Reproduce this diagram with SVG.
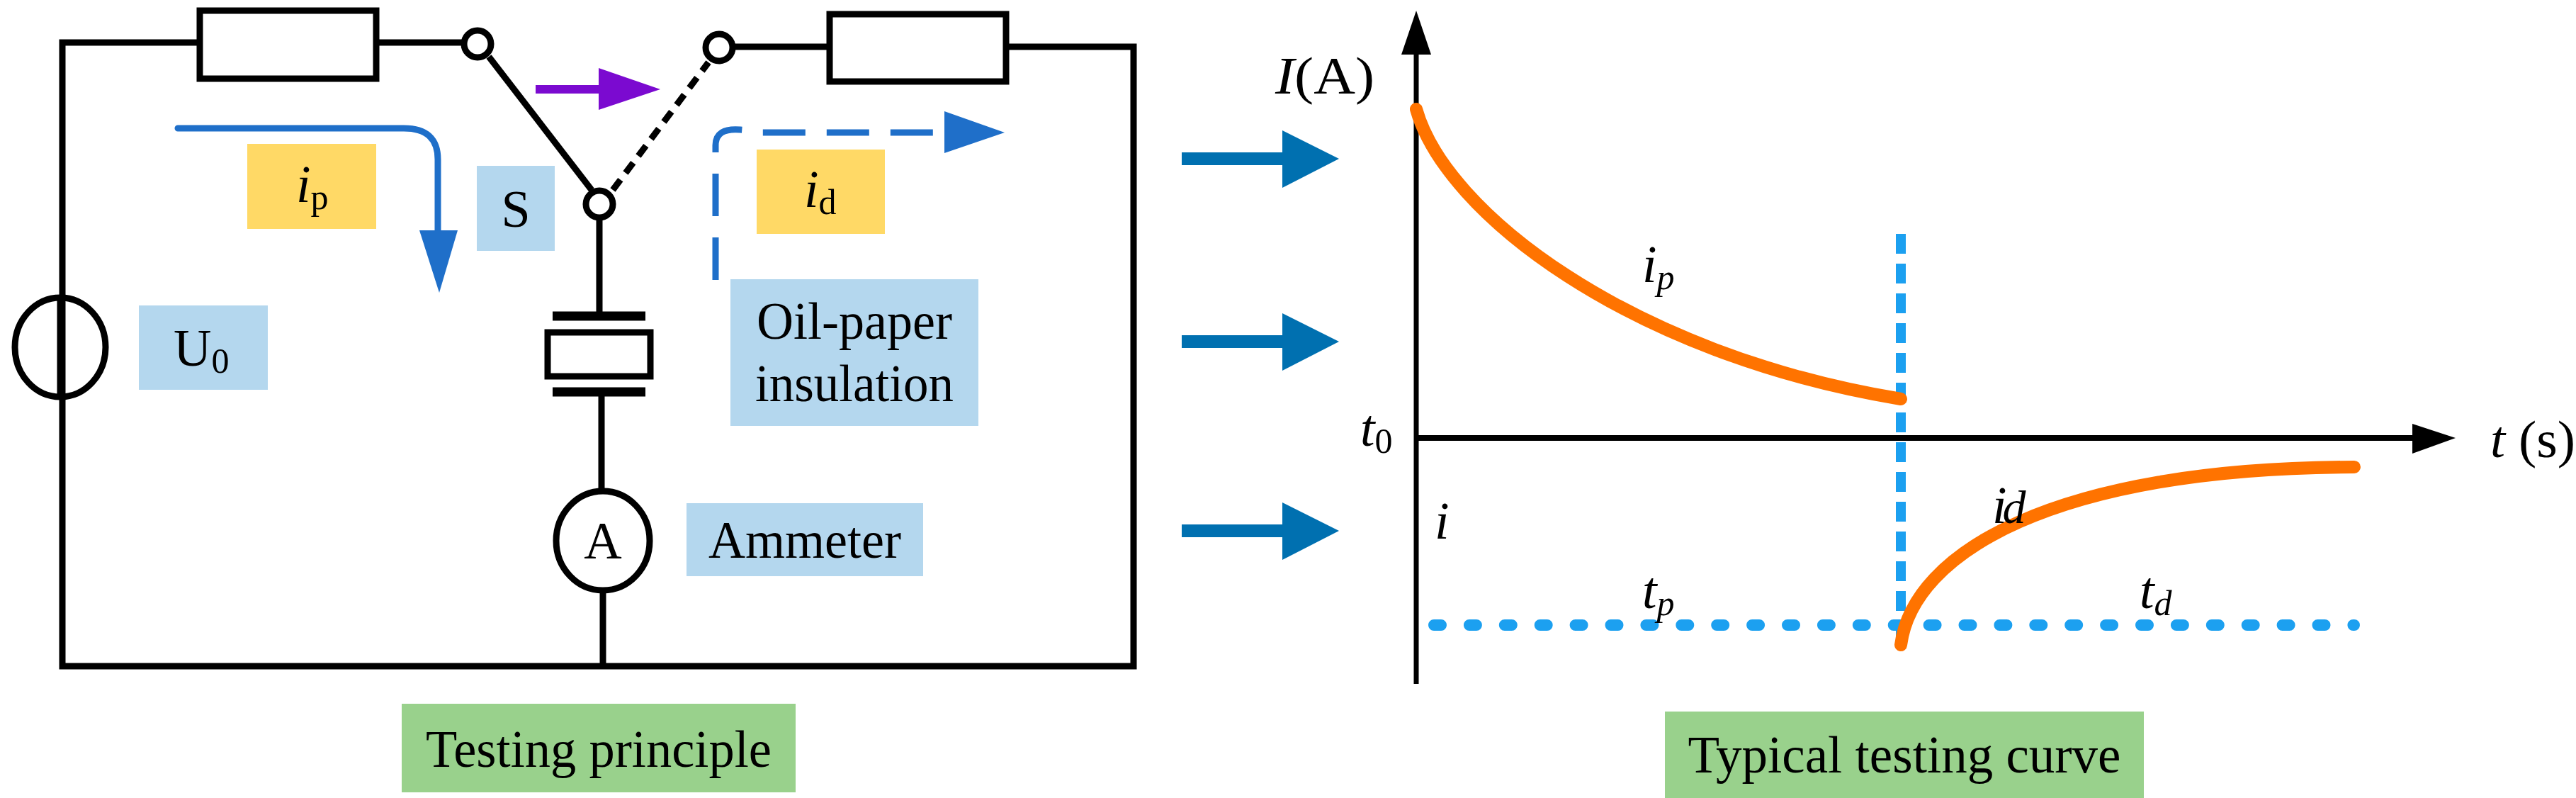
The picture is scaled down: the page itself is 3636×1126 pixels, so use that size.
<svg xmlns="http://www.w3.org/2000/svg" width="3636" height="1126" viewBox="0 0 3636 1126">
<style>
.w{fill:none;stroke:#000;stroke-width:9}
.t{font-family:"Liberation Serif",serif;font-size:74px;fill:#000}
.it{font-style:italic}
.or{fill:none;stroke:#FF7300;stroke-width:18;stroke-linecap:round}
.bl{fill:#B4D7EE}.yl{fill:#FFD966}.gr{fill:#99D18C}
</style>
<rect width="3636" height="1126" fill="#fff"/>
<g id="circuit">
<path class="w" d="M282,60H88V940H1600V66H1420M531,60H655M1036,66H1171"/>
<rect id="R1" class="w" x="282" y="15" width="249" height="96" fill="#fff"/>
<rect id="R2" class="w" x="1171" y="20" width="249" height="95" fill="#fff"/>
<line class="w" x1="690" y1="80" x2="835" y2="268"/>
<line x1="865" y1="268" x2="1000" y2="88" stroke="#000" stroke-width="9" stroke-dasharray="18,12"/>
<circle class="w" cx="674" cy="62" r="19" fill="#fff"/>
<circle class="w" cx="1015" cy="67" r="19" fill="#fff"/>
<circle class="w" cx="846" cy="288" r="19" fill="#fff"/>
<path class="w" d="M846,307V446M849,553V692M851,834V940"/>
<ellipse id="U0src" class="w" cx="85" cy="490" rx="64" ry="70" fill="#fff"/>
<line class="w" x1="85" y1="420" x2="85" y2="560"/>
<path d="M780,446H911M780,553H911" stroke="#000" stroke-width="13"/>
<rect class="w" x="773" y="469" width="145" height="62" fill="#97D28C"/>
<ellipse id="ammeter" class="w" cx="851" cy="763" rx="66" ry="70" fill="#fff"/>
<text class="t" x="851" y="788" text-anchor="middle">A</text>
</g>
<g id="labels-left">
<rect class="yl" x="349" y="203" width="182" height="120"/>
<text class="t" x="418" y="285"><tspan class="it">i</tspan><tspan font-size="50" dy="10">p</tspan></text>
<rect class="bl" x="673" y="234" width="110" height="120"/>
<text class="t" x="728" y="320" text-anchor="middle">S</text>
<rect class="yl" x="1068" y="211" width="181" height="119"/>
<text class="t" x="1135" y="292"><tspan class="it">i</tspan><tspan font-size="50" dy="10">d</tspan></text>
<rect class="bl" x="196" y="431" width="182" height="119"/>
<text class="t" x="245" y="516">U<tspan font-size="50" dy="10">0</tspan></text>
<rect class="bl" x="1031" y="394" width="350" height="207"/>
<text class="t" x="1206" y="478" text-anchor="middle" textLength="276" lengthAdjust="spacingAndGlyphs">Oil-paper</text>
<text class="t" x="1206" y="566" text-anchor="middle" textLength="280" lengthAdjust="spacingAndGlyphs">insulation</text>
<rect class="bl" x="969" y="710" width="334" height="103"/>
<text class="t" x="1136" y="787" text-anchor="middle" textLength="272" lengthAdjust="spacingAndGlyphs">Ammeter</text>
<rect class="gr" x="567" y="993" width="556" height="125"/>
<text class="t" x="845" y="1082" text-anchor="middle" textLength="488" lengthAdjust="spacingAndGlyphs">Testing principle</text>
</g>
<g id="connectors">
<path d="M756,126H870" stroke="#7B0AD0" stroke-width="12"/>
<path d="M845,96L932,126L845,155z" fill="#7B0AD0"/>
<path d="M251,181H570Q618,181 618,225V335" fill="none" stroke="#1F6FC9" stroke-width="9" stroke-linecap="round"/>
<path d="M592,325L646,325L620,413z" fill="#1F6FC9"/>
<path d="M1010,395V205Q1010,180 1045,183Q1070,185 1075,187H1345" fill="none" stroke="#1F6FC9" stroke-width="9" stroke-dasharray="60,30"/>
<path d="M1333,157L1418,187L1333,216z" fill="#1F6FC9"/>
<g fill="#0070B0">
<path d="M1668,215H1815V233H1668z"/><path d="M1810,184L1890,224L1810,265z"/>
<path d="M1668,473H1815V491H1668z"/><path d="M1810,442L1890,482L1810,523z"/>
<path d="M1668,740H1815V758H1668z"/><path d="M1810,709L1890,749L1810,790z"/>
</g>
</g>
<g id="chart">
<line x1="1999" y1="965" x2="1999" y2="60" stroke="#000" stroke-width="7"/>
<path d="M1978,77L1999,15L2020,77z"/>
<line x1="1999" y1="618" x2="3410" y2="618" stroke="#000" stroke-width="8"/>
<path d="M3405,598L3466,618L3405,640z"/>
<line x1="2683" y1="330" x2="2683" y2="910" stroke="#1CA0F0" stroke-width="14" stroke-dasharray="28,14"/>
<line x1="2024" y1="882" x2="3323" y2="882" stroke="#1CA0F0" stroke-width="16" stroke-linecap="round" stroke-dasharray="10,39.9"/>
<path class="or" d="M1999,154C2040,300 2300,500 2683,563"/>
<path class="or" d="M2683,910C2700,780 2900,660 3323,659"/>
<text class="t" x="1800" y="132" textLength="140" lengthAdjust="spacingAndGlyphs"><tspan class="it">I</tspan>(A)</text>
<text class="t" x="2318" y="398"><tspan class="it">i<tspan font-size="50" dy="10">p</tspan></tspan></text>
<text class="t" x="1920" y="629"><tspan class="it">t</tspan><tspan font-size="50" dy="10">0</tspan></text>
<text class="t" x="3515" y="645" textLength="120" lengthAdjust="spacingAndGlyphs"><tspan class="it">t</tspan> (s)</text>
<text class="t" x="2812" y="738"><tspan class="it">i<tspan font-size="66" dx="-6">d</tspan></tspan></text>
<text class="t it" x="2025" y="760">i</text>
<text class="t" x="2318" y="858"><tspan class="it">t<tspan font-size="50" dy="10">p</tspan></tspan></text>
<text class="t" x="3020" y="858"><tspan class="it">t<tspan font-size="50" dy="10">d</tspan></tspan></text>
<rect class="gr" x="2350" y="1004" width="676" height="122"/>
<text class="t" x="2688" y="1090" text-anchor="middle" textLength="611" lengthAdjust="spacingAndGlyphs">Typical testing curve</text>
</g>
</svg>
